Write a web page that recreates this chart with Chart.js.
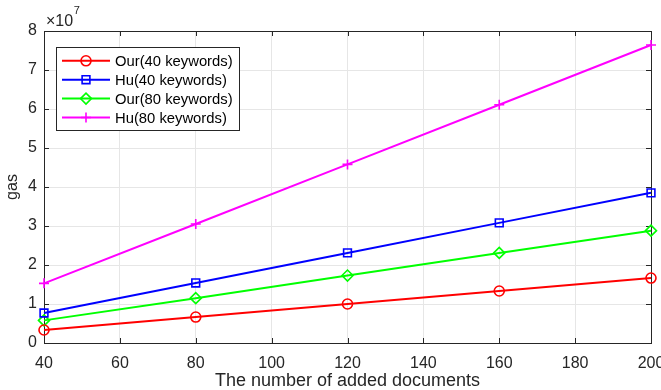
<!DOCTYPE html>
<html>
<head>
<meta charset="utf-8">
<style>
  html, body { margin: 0; padding: 0; background: #fff; }
  #wrap { width: 661px; height: 390px; position: relative; }
</style>
<script src="https://cdn.jsdelivr.net/npm/chart.js@4/dist/chart.umd.min.js"></script>
</head>
<body>
<div id="wrap"><canvas id="c" width="661" height="390"></canvas></div>
<script>
// Number of added documents
const docs = [40, 80, 120, 160, 200];
// Gas consumption per scheme
const our40 = [3330000, 6660000, 10000000, 13330000, 16660000];
const hu40  = [7700000, 15400000, 23100000, 30800000, 38500000];
const our80 = [5800000, 11500000, 17300000, 23100000, 28800000];
const hu80  = [15300000, 30500000, 45800000, 61100000, 76400000];
const seriesNames = ['Our(40 keywords)', 'Hu(40 keywords)', 'Our(80 keywords)', 'Hu(80 keywords)'];
const yTickValues = [0, 10000000, 20000000, 30000000, 40000000, 50000000, 60000000, 70000000, 80000000];
const xTickValues = [40, 60, 80, 100, 120, 140, 160, 180, 200];

const FONT = '"Liberation Sans", Arial, Helvetica, sans-serif';
const AXIS_COLOR = '#262626';
const GRID_COLOR = '#e6e6e6';

function pts(ys) { return docs.map((x, i) => ({ x: x, y: ys[i] })); }

function makeSet(label, ys, color, style, radius) {
  return {
    label: label,
    data: pts(ys),
    borderColor: color,
    backgroundColor: 'rgba(0,0,0,0)',
    borderWidth: 2,
    pointStyle: style,
    pointRadius: radius,
    pointHoverRadius: radius,
    pointBorderWidth: 1.6,
    pointBorderColor: color,
    pointBackgroundColor: 'rgba(0,0,0,0)',
    tension: 0,
    clip: false
  };
}

// Marker shapes shared by the plot and the legend
function drawMarker(ctx, style, x, y, r, color) {
  ctx.save();
  ctx.strokeStyle = color;
  ctx.lineWidth = 1.6;
  ctx.beginPath();
  if (style === 'circle') {
    ctx.arc(x, y, r, 0, Math.PI * 2);
  } else if (style === 'rect') {
    const s = Math.SQRT1_2 * r;
    ctx.rect(x - s, y - s, 2 * s, 2 * s);
  } else if (style === 'rectRot') {
    ctx.moveTo(x - r, y); ctx.lineTo(x, y - r); ctx.lineTo(x + r, y); ctx.lineTo(x, y + r); ctx.closePath();
  } else if (style === 'cross') {
    ctx.moveTo(x - r, y); ctx.lineTo(x + r, y);
    ctx.moveTo(x, y - r); ctx.lineTo(x, y + r);
  }
  ctx.stroke();
  ctx.restore();
}

// Box frame with inward tick marks on all four sides
const framePlugin = {
  id: 'frame',
  beforeDatasetsDraw(chart) {
    const { ctx, chartArea: a, scales } = chart;
    ctx.save();
    ctx.strokeStyle = AXIS_COLOR;
    ctx.lineWidth = 1;
    ctx.strokeRect(Math.round(a.left) + 0.5, Math.round(a.top) + 0.5,
                   Math.round(a.right - a.left), Math.round(a.bottom - a.top));
    const tl = 5;
    ctx.beginPath();
    scales.x.ticks.forEach(t => {
      const px = Math.round(scales.x.getPixelForValue(t.value)) + 0.5;
      ctx.moveTo(px, a.bottom); ctx.lineTo(px, a.bottom - tl);
      ctx.moveTo(px, a.top); ctx.lineTo(px, a.top + tl);
    });
    scales.y.ticks.forEach(t => {
      const py = Math.round(scales.y.getPixelForValue(t.value)) + 0.5;
      ctx.moveTo(a.left, py); ctx.lineTo(a.left + tl, py);
      ctx.moveTo(a.right, py); ctx.lineTo(a.right - tl, py);
    });
    ctx.stroke();
    ctx.restore();
  },
  afterDraw(chart) {
    const { ctx, chartArea: a } = chart;
    ctx.save();
    // exponent label above the y axis: x10^7
    ctx.fillStyle = AXIS_COLOR;
    ctx.textBaseline = 'alphabetic';
    ctx.textAlign = 'left';
    ctx.font = '16px ' + FONT;
    const base = '\u00d710';
    ctx.fillText(base, a.left + 2, 25.5);
    const w = ctx.measureText(base).width;
    ctx.font = '11px ' + FONT;
    ctx.fillText('7', a.left + 2 + w + 0.5, 14);
    ctx.restore();
  }
};

// Boxed legend with line-and-marker samples
const legendPlugin = {
  id: 'boxLegend',
  afterDraw(chart) {
    const { ctx } = chart;
    const box = { x: 56, y: 47, w: 183, h: 83 };
    ctx.save();
    ctx.fillStyle = '#ffffff';
    ctx.fillRect(box.x, box.y, box.w, box.h);
    ctx.strokeStyle = AXIS_COLOR;
    ctx.lineWidth = 1;
    ctx.strokeRect(box.x + 0.5, box.y + 0.5, box.w, box.h);
    ctx.font = '14.8px ' + FONT;
    ctx.textAlign = 'left';
    ctx.textBaseline = 'middle';
    chart.data.datasets.forEach((ds, i) => {
      const y = 60.8 + i * 18.9;
      ctx.strokeStyle = ds.borderColor;
      ctx.lineWidth = 2;
      ctx.beginPath();
      ctx.moveTo(62, y); ctx.lineTo(110, y);
      ctx.stroke();
      drawMarker(ctx, ds.pointStyle, 86, y, ds.pointRadius, ds.borderColor);
      ctx.fillStyle = '#000000';
      ctx.fillText(seriesNames[i], 115, y + 1);
    });
    ctx.restore();
  }
};

new Chart(document.getElementById('c'), {
  type: 'line',
  data: {
    datasets: [
      makeSet(seriesNames[0], our40, '#ff0000', 'circle', 5),
      makeSet(seriesNames[1], hu40, '#0000ff', 'rect', 5.5),
      makeSet(seriesNames[2], our80, '#00ff00', 'rectRot', 5.5),
      makeSet(seriesNames[3], hu80, '#ff00ff', 'cross', 5)
    ]
  },
  options: {
    responsive: false,
    animation: false,
    events: [],
    layout: { padding: { top: 31, right: 10, left: 0, bottom: 0 } },
    plugins: {
      legend: { display: false },
      tooltip: { enabled: false },
      title: { display: false }
    },
    scales: {
      x: {
        type: 'linear',
        min: 40, max: 200,
        afterBuildTicks(scale) { scale.ticks = xTickValues.map(v => ({ value: v })); },
        afterFit(scale) {
          scale.height = 47;
          scale.paddingLeft = 0; scale.paddingRight = 0;
          scale.paddingTop = 0; scale.paddingBottom = 0;
        },
        grid: { color: GRID_COLOR, lineWidth: 1, drawTicks: false },
        border: { display: false },
        ticks: {
          color: AXIS_COLOR, padding: 11, maxRotation: 0, autoSkip: false,
          font: { family: FONT, size: 16 }
        },
        title: {
          display: true, text: 'The number of added documents', color: AXIS_COLOR,
          font: { family: FONT, size: 18 }, padding: { top: 0, bottom: -2 }
        }
      },
      y: {
        type: 'linear',
        min: 0, max: 80000000,
        afterBuildTicks(scale) { scale.ticks = yTickValues.map(v => ({ value: v })); },
        afterFit(scale) {
          scale.width = 44;
          scale.paddingLeft = 0; scale.paddingRight = 0;
          scale.paddingTop = 0; scale.paddingBottom = 0;
        },
        grid: { color: GRID_COLOR, lineWidth: 1, drawTicks: false },
        border: { display: false },
        ticks: {
          color: AXIS_COLOR, padding: 7, autoSkip: false,
          font: { family: FONT, size: 16 },
          callback: v => String(v / 10000000)
        },
        title: {
          display: true, text: 'gas', color: AXIS_COLOR,
          font: { family: FONT, size: 16 }, padding: { top: 3, bottom: 0 }
        }
      }
    }
  },
  plugins: [framePlugin, legendPlugin]
});
</script>
</body>
</html>
